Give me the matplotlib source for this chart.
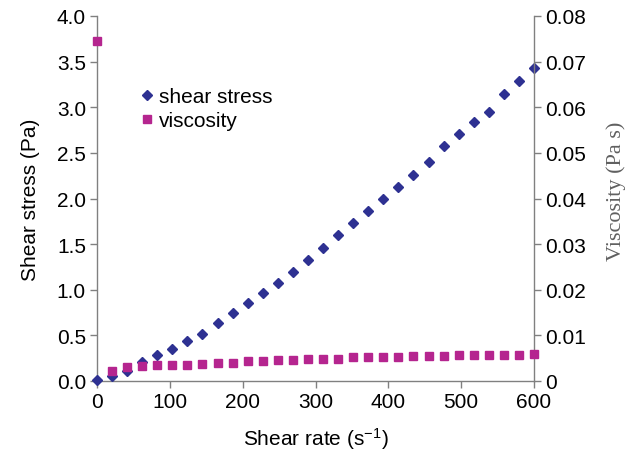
import numpy as np
import matplotlib
matplotlib.use("Agg")
import matplotlib.pyplot as plt

shear_rate = [0, 20.7, 41.4, 62.1, 82.8, 103.4, 124.1, 144.8, 165.5, 186.2,
              206.9, 227.6, 248.3, 269.0, 289.7, 310.3, 331.0, 351.7, 372.4, 393.1,
              413.8, 434.5, 455.2, 475.9, 496.6, 517.2, 537.9, 558.6, 579.3, 600.0]
shear_stress = [0.01, 0.05, 0.11, 0.21, 0.28, 0.35, 0.44, 0.51, 0.64, 0.74,
                0.86, 0.96, 1.07, 1.19, 1.33, 1.46, 1.60, 1.73, 1.86, 2.00,
                2.13, 2.26, 2.40, 2.57, 2.71, 2.84, 2.95, 3.14, 3.29, 3.43]
viscosity = [0.0745, 0.00225, 0.0030, 0.0032, 0.0034, 0.0034, 0.0036, 0.0037, 0.0040, 0.0040,
             0.0043, 0.0043, 0.0046, 0.0046, 0.0049, 0.0049, 0.0049, 0.0052, 0.0052, 0.0052,
             0.0052, 0.0055, 0.0055, 0.0055, 0.0057, 0.0057, 0.0057, 0.0057, 0.0057, 0.0059]

navy = "#2e3192"
magenta = "#b5258f"
gray = "#808080"

plt.rcParams['font.family'] = ['Liberation Sans', 'DejaVu Sans']
plt.rcParams['mathtext.fontset'] = 'custom'
plt.rcParams['mathtext.rm'] = 'Liberation Sans'
plt.rcParams['mathtext.it'] = 'Liberation Sans'

fig = plt.figure(figsize=(6.41, 4.52), dpi=100)
ax = fig.add_axes([97/641, 70/452, (534-97)/641, (382-17)/452])
ax2 = ax.twinx()

ax.plot(shear_rate, shear_stress, linestyle='none', marker='D', markersize=4.6,
        color=navy, clip_on=False, zorder=3, label='shear stress')
ax2.plot(shear_rate, viscosity, linestyle='none', marker='s', markersize=5.8,
         color=magenta, clip_on=False, zorder=3, label='viscosity')

ax.set_xlim(0, 600)
ax.set_ylim(0, 4.0)
ax2.set_ylim(0, 0.08)
ax.set_xticks(np.arange(0, 601, 100))
ax.set_yticks(np.arange(0, 4.01, 0.5))
ax.set_yticklabels([f"{v:.1f}" for v in np.arange(0, 4.01, 0.5)])
ax2.set_yticks(np.arange(0, 0.081, 0.01))
ax2.set_yticklabels(["0"] + [f"{v:.2f}" for v in np.arange(0.01, 0.081, 0.01)])

for a in (ax, ax2):
    a.spines['top'].set_visible(False)
    for s in ['left', 'right', 'bottom']:
        a.spines[s].set_color(gray)
        a.spines[s].set_linewidth(1.0)
    a.tick_params(axis='both', direction='out', length=5, width=1.0, color=gray,
                  labelsize=15, labelcolor='black', pad=3)
ax.spines['right'].set_visible(False)
ax2.spines['left'].set_visible(False)
ax2.spines['bottom'].set_visible(False)

ax.set_xlabel("Shear rate (s$^{\\mathregular{-1}}$)", fontsize=15, labelpad=10)
ax.set_ylabel("Shear stress (Pa)", fontsize=15, labelpad=12)
ax2.set_ylabel("Viscosity (Pa s)", fontsize=16, family=['Liberation Serif'],
               color='#606060')
ax2.yaxis.set_label_coords(1.165, 0.523)

h1, l1 = ax.get_legend_handles_labels()
h2, l2 = ax2.get_legend_handles_labels()
ax2.legend(h1 + h2, l1 + l2, loc='upper left', bbox_to_anchor=(0.105, 0.805),
           frameon=False, fontsize=15, handlelength=0.4, handletextpad=0.35,
           labelspacing=0.25, borderaxespad=0, borderpad=0)

fig.savefig("out.png", dpi=100)
